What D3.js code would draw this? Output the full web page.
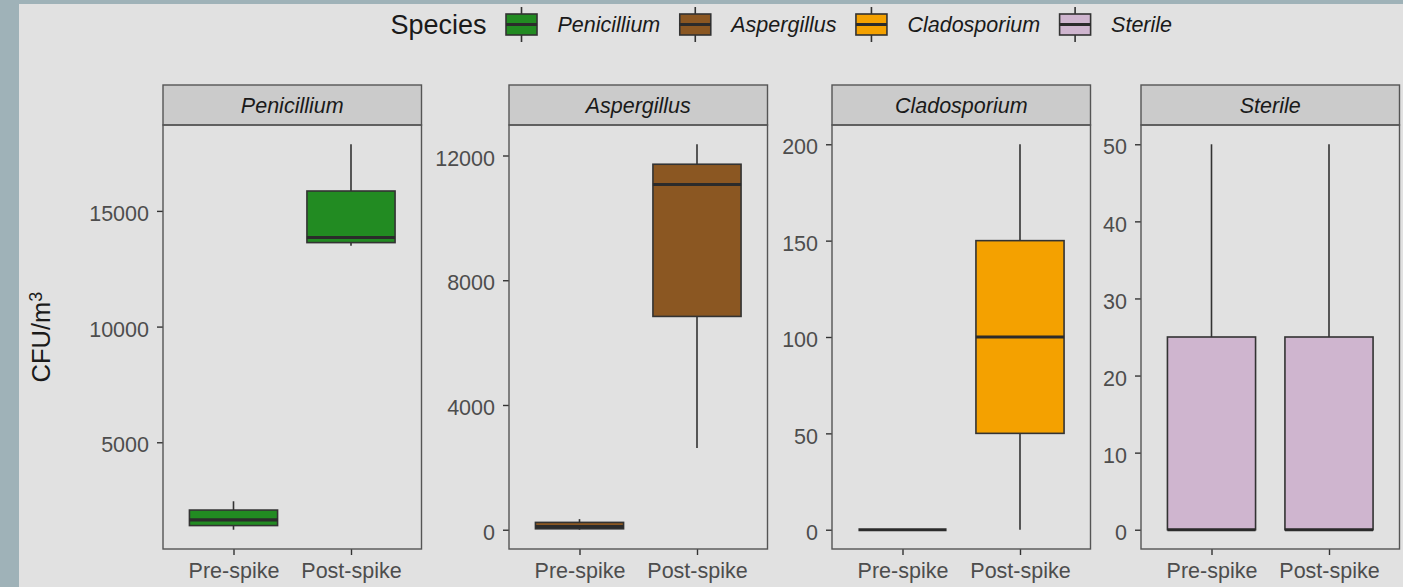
<!DOCTYPE html>
<html>
<head>
<meta charset="utf-8">
<script src="https://cdn.jsdelivr.net/npm/d3@7"></script>
<style>
  body { margin: 0; background: #9fb2b8; }
  text { font-family: "Liberation Sans", Arial, Helvetica, sans-serif; }
</style>
</head>
<body>
<div id="my_dataviz"></div>
<script>
var width = 1403
var height = 587

// data (box stats per species, [Pre-spike, Post-spike])
var species = ["Penicillium", "Aspergillus", "Cladosporium", "Sterile"]
var phases = ["Pre-spike", "Post-spike"]
var whiskerLow  = [[1220, 13490], [0, 2620], [0, 0], [0, 0]]
var q1          = [[1400, 13630], [30, 6840], [0, 50], [0, 0]]
var median      = [[1650, 13850], [100, 11070], [0, 100], [0, 0]]
var q3          = [[2070, 15860], [235, 11720], [0, 150], [25, 25]]
var whiskerHigh = [[2450, 17880], [340, 12360], [0, 200], [50, 50]]
var yTicks = [[5000, 10000, 15000], [0, 4000, 8000, 12000], [0, 50, 100, 150, 200], [0, 10, 20, 30, 40, 50]]

var palette = ["#228B22", "#8B5722", "#F4A100", "#CFB5CF"]

// layout
var panelLeft = [163, 509, 832, 1141]
var panelW = 258.5
var stripTop = 85, panelTop = 125, panelBottom = 549
var axisColor = "#333333", labelColor = "#4d4d4d"

var svg = d3.select("#my_dataviz")
  .append("svg")
    .attr("width", width)
    .attr("height", height)
    .style("display", "block")

svg.append("rect").attr("width", width).attr("height", height).attr("fill", "#9fb2b8")
svg.append("rect")
  .attr("x", 19).attr("y", 4)
  .attr("width", width - 19).attr("height", height - 4)
  .attr("fill", "#e1e1e1")

species.forEach(function(sp, i) {
  var px = panelLeft[i]
  var lo = d3.min(whiskerLow[i]), hi = d3.max(whiskerHigh[i])
  var pad = (hi - lo) * 0.05

  var x = d3.scalePoint().domain(phases).range([px, px + panelW]).padding(0.6)
  var y = d3.scaleLinear().domain([lo - pad, hi + pad]).range([panelBottom, panelTop])

  var g = svg.append("g")

  // strip
  g.append("rect")
    .attr("x", px).attr("y", stripTop)
    .attr("width", panelW).attr("height", panelTop - stripTop)
    .attr("fill", "#cbcbcb")
    .attr("stroke", "#555").attr("stroke-width", 1.4)
  g.append("text")
    .attr("x", px + panelW / 2).attr("y", 113)
    .attr("text-anchor", "middle")
    .style("font-size", "21.5px")
    .style("font-style", "italic")
    .attr("fill", "#1a1a1a")
    .text(sp)

  // axes
  var yAxis = g.append("g")
    .attr("transform", "translate(" + px + ",0)")
    .call(d3.axisLeft(y).tickValues(yTicks[i]).tickSize(6).tickPadding(8).tickFormat(d3.format("d")))
  var xAxis = g.append("g")
    .attr("transform", "translate(0," + panelBottom + ")")
    .call(d3.axisBottom(x).tickSize(6).tickPadding(8))
  ;[yAxis, xAxis].forEach(function(a) {
    a.select(".domain").remove()
    a.selectAll(".tick line").attr("stroke", axisColor).attr("stroke-width", 1.4)
    a.selectAll(".tick text")
      .attr("fill", labelColor)
      .style("font-size", "21.5px")
      .style("font-family", "'Liberation Sans', Arial, sans-serif")
  })
  yAxis.selectAll(".tick text").attr("dy", "0.45em")

  // boxes
  var bw = x.step() * 0.75
  phases.forEach(function(ph, j) {
    var cx = x(ph)
    g.append("line")
      .attr("x1", cx).attr("x2", cx)
      .attr("y1", y(whiskerHigh[i][j])).attr("y2", y(q3[i][j]))
      .attr("stroke", axisColor).attr("stroke-width", 1.6)
    g.append("line")
      .attr("x1", cx).attr("x2", cx)
      .attr("y1", y(q1[i][j])).attr("y2", y(whiskerLow[i][j]))
      .attr("stroke", axisColor).attr("stroke-width", 1.6)
    g.append("rect")
      .attr("x", cx - bw / 2).attr("y", y(q3[i][j]))
      .attr("width", bw).attr("height", y(q1[i][j]) - y(q3[i][j]))
      .attr("fill", palette[i])
      .attr("stroke", axisColor).attr("stroke-width", 1.6)
    g.append("line")
      .attr("x1", cx - bw / 2).attr("x2", cx + bw / 2)
      .attr("y1", y(median[i][j])).attr("y2", y(median[i][j]))
      .attr("stroke", "#2b2b2b").attr("stroke-width", 3.2)
  })

  // panel border
  g.append("rect")
    .attr("x", px).attr("y", panelTop)
    .attr("width", panelW).attr("height", panelBottom - panelTop)
    .attr("fill", "none")
    .attr("stroke", "#555").attr("stroke-width", 1.4)
})

// y axis title
var yTitle = svg.append("text")
  .attr("transform", "translate(50," + (panelTop + panelBottom) / 2 + ") rotate(-90)")
  .attr("text-anchor", "middle")
  .style("font-size", "25.5px")
  .attr("fill", "#1a1a1a")
yTitle.append("tspan").text("CFU/m")
yTitle.append("tspan").attr("dy", "-0.45em").style("font-size", "18px").text("3")

// legend on top, centred over the panels
var legend = svg.append("g")
var cy = 24.5
var title = legend.append("text")
  .attr("x", 0).attr("y", cy).attr("dy", "0.36em")
  .style("font-size", "27px")
  .attr("fill", "#1a1a1a")
  .text("Species")
var cursor = title.node().getComputedTextLength()
species.forEach(function(sp, i) {
  var kx = cursor + 35
  legend.append("line")
    .attr("x1", kx).attr("x2", kx).attr("y1", cy - 17.5).attr("y2", cy + 17.5)
    .attr("stroke", axisColor).attr("stroke-width", 1.6)
  legend.append("rect")
    .attr("x", kx - 15.5).attr("y", cy - 10.5)
    .attr("width", 31).attr("height", 21)
    .attr("fill", palette[i])
    .attr("stroke", axisColor).attr("stroke-width", 1.6)
  legend.append("line")
    .attr("x1", kx - 15.5).attr("x2", kx + 15.5).attr("y1", cy).attr("y2", cy)
    .attr("stroke", "#2b2b2b").attr("stroke-width", 3)
  var lab = legend.append("text")
    .attr("x", kx + 36).attr("y", cy).attr("dy", "0.36em")
    .style("font-size", "21.5px")
    .style("font-style", "italic")
    .attr("fill", "#1a1a1a")
    .text(sp)
  cursor = kx + 36 + lab.node().getComputedTextLength()
})
var mid = (panelLeft[0] + panelLeft[3] + panelW) / 2
legend.attr("transform", "translate(" + (mid - cursor / 2) + ",0)")
</script>
</body>
</html>
